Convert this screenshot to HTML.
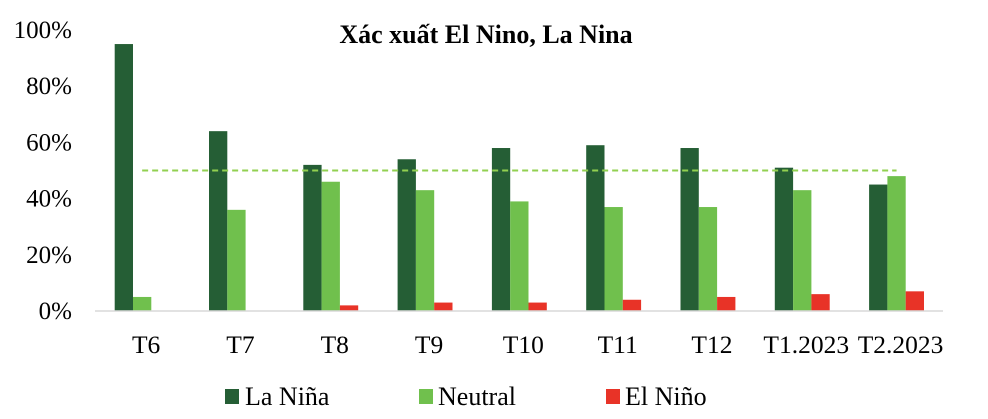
<!DOCTYPE html>
<html><head><meta charset="utf-8"><style>
body{margin:0;background:#fff;}
svg text{font-family:"Liberation Serif",serif;}
</style></head><body>
<svg width="988" height="414">
<text x="486" y="43" text-anchor="middle" font-size="26" font-weight="bold">Xác xuất El Nino, La Nina</text>
<g id="yaxis"></g><g id="bars"></g><g id="xlabels"></g>
<line x1="95" y1="311" x2="943" y2="311" stroke="#d9d9d9" stroke-width="1.5"/>
<line id="ref" stroke="#92d050" stroke-width="2" stroke-dasharray="6,4"/>
<g>
<rect x="225" y="389" width="14" height="15" fill="#255e35"/>
<text x="245" y="405" font-size="26">La Niña</text>
<rect x="419" y="389" width="14" height="15" fill="#70c04d"/>
<text x="438" y="405" font-size="26">Neutral</text>
<rect x="606" y="389" width="14" height="15" fill="#e83327"/>
<text x="625" y="405" font-size="26">El Niño</text>
</g>
</svg>
<script>
const categories=["T6","T7","T8","T9","T10","T11","T12","T1.2023","T2.2023"];
const laNina=[95,64,52,54,58,59,58,51,45];
const neutral=[5,36,46,43,39,37,37,43,48];
const elNino=[0,0,2,3,3,4,5,6,7];
const yTicks=[0,20,40,60,80,100];
const refValue=50;
const NS="http://www.w3.org/2000/svg";
const y0=311,yTop=30;
function y(v){return y0-(y0-yTop)*v/100;}
const slot=94.3,left=95,bw=18.3;
function cx(i){return left+slot*(i+0.5);}
const yg=document.getElementById('yaxis');
yTicks.forEach(t=>{const e=document.createElementNS(NS,'text');
e.setAttribute('x',72);e.setAttribute('y',y(t)+8);e.setAttribute('text-anchor','end');e.setAttribute('font-size','25');
e.textContent=t+'%';


yg.appendChild(e);});
const bg=document.getElementById('bars');
const series=[[laNina,'#255e35','la-nina'],[neutral,'#70c04d','neutral'],[elNino,'#e83327','el-nino']];
categories.forEach((c,i)=>{
series.forEach((s,k)=>{const v=s[0][i];if(v<=0)return;
const r=document.createElementNS(NS,'rect');
r.setAttribute('x',cx(i)-1.5*bw+k*bw);r.setAttribute('y',y(v));r.setAttribute('width',bw);r.setAttribute('height',y0-y(v));r.setAttribute('fill',s[1]);


bg.appendChild(r);});
const t=document.createElementNS(NS,'text');
t.setAttribute('x',cx(i)+4);t.setAttribute('y',353);t.setAttribute('text-anchor','middle');t.setAttribute('font-size','25.5');
t.textContent=c;


document.getElementById('xlabels').appendChild(t);});
const ref=document.getElementById('ref');
ref.setAttribute('x1',cx(0));ref.setAttribute('x2',cx(categories.length-1));
ref.setAttribute('y1',y(refValue));ref.setAttribute('y2',y(refValue));
</script>
</body></html>
